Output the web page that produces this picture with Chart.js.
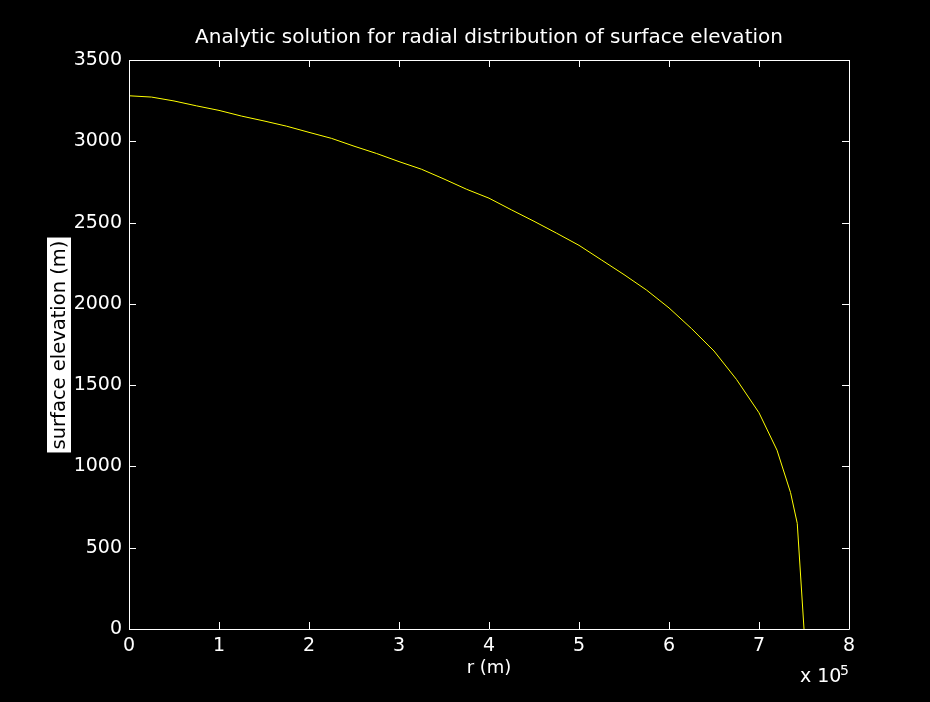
<!DOCTYPE html>
<html>
<head>
<meta charset="utf-8">
<title>Surface elevation</title>
<script src="https://cdn.jsdelivr.net/npm/chart.js@4.4.1/dist/chart.umd.min.js"></script>
<style>
  html, body { margin: 0; padding: 0; background: #000; }
  #wrap { width: 930px; height: 702px; position: relative; }
</style>
</head>
<body>
<div id="wrap"><canvas id="profile"></canvas></div>
<script>
// radial distance (units of 1e5 m) and surface elevation (m)
const radius = [0, 0.25, 0.5, 0.75, 1.0, 1.25, 1.5, 1.75, 2.0, 2.25, 2.5, 2.75, 3.0,
  3.25, 3.5, 3.75, 4.0, 4.25, 4.5, 4.75, 5.0, 5.25, 5.5, 5.75, 6.0, 6.25, 6.5,
  6.75, 7.0, 7.2, 7.35, 7.425, 7.5];
const elevation = [3280, 3272, 3248, 3218, 3190, 3155, 3125, 3093, 3055, 3018, 2970, 2925, 2875,
  2828, 2768, 2705, 2650, 2578, 2508, 2435, 2360, 2270, 2180, 2085, 1975, 1848, 1710,
  1535, 1330, 1100, 840, 650, 0];

const xTicks = [0, 1, 2, 3, 4, 5, 6, 7, 8];
const yTicks = [0, 500, 1000, 1500, 2000, 2500, 3000, 3500];

const titleText = 'Analytic solution for radial distribution of surface elevation';
const xLabel = 'r (m)';
const yLabel = 'surface elevation (m)';

const FONT = "'DejaVu Sans', sans-serif";
Chart.defaults.font.family = FONT;
Chart.defaults.color = '#ffffff';

// black figure, white box with inward ticks, title and axis labels
const matlabFrame = {
  id: 'matlabFrame',
  beforeDraw(chart) {
    const ctx = chart.ctx;
    ctx.save();
    ctx.fillStyle = '#000000';
    ctx.fillRect(0, 0, chart.width, chart.height);
    ctx.restore();
  },
  afterDraw(chart) {
    const { ctx, chartArea: a, scales: { x, y } } = chart;
    const tick = 7;
    ctx.save();
    ctx.strokeStyle = '#ffffff';
    ctx.lineWidth = 1;
    ctx.beginPath();
    ctx.rect(Math.round(a.left) + 0.5, Math.round(a.top) + 0.5,
      Math.round(a.right - a.left), Math.round(a.bottom - a.top));
    xTicks.forEach(v => {
      const px = Math.round(x.getPixelForValue(v)) + 0.5;
      ctx.moveTo(px, a.bottom); ctx.lineTo(px, a.bottom - tick);
      ctx.moveTo(px, a.top); ctx.lineTo(px, a.top + tick);
    });
    yTicks.forEach(v => {
      const py = Math.round(y.getPixelForValue(v)) + 0.5;
      ctx.moveTo(a.left, py); ctx.lineTo(a.left + tick, py);
      ctx.moveTo(a.right, py); ctx.lineTo(a.right - tick, py);
    });
    ctx.stroke();

    ctx.fillStyle = '#ffffff';
    ctx.textAlign = 'center';
    ctx.textBaseline = 'alphabetic';
    const cx = (a.left + a.right) / 2;
    ctx.font = '20px ' + FONT;
    ctx.fillText(titleText, cx, 43);
    ctx.font = '18px ' + FONT;
    ctx.fillText(xLabel, cx, 673);

    // exponent label under the right end of the x axis
    ctx.textAlign = 'left';
    ctx.font = '19px ' + FONT;
    ctx.fillText('x 10', 800, 682);
    ctx.font = '14px ' + FONT;
    ctx.fillText('5', 840, 675);

    // rotated y label on a white box
    ctx.translate(59, 345);
    ctx.rotate(-Math.PI / 2);
    ctx.font = '19.5px ' + FONT;
    const w = ctx.measureText(yLabel).width;
    ctx.fillStyle = '#ffffff';
    ctx.fillRect(-w / 2 - 3, -12, w + 6, 24);
    ctx.fillStyle = '#000000';
    ctx.textAlign = 'center';
    ctx.textBaseline = 'middle';
    ctx.fillText(yLabel, 0, 1);
    ctx.restore();
  }
};

new Chart(document.getElementById('profile'), {
  type: 'line',
  data: {
    datasets: [{
      data: radius.map((r, i) => ({ x: r, y: elevation[i] })),
      borderColor: '#ffff00',
      borderWidth: 1,
      pointRadius: 0,
      tension: 0,
      fill: false
    }]
  },
  options: {
    responsive: true,
    maintainAspectRatio: false,
    animation: false,
    layout: { padding: { left: 0, top: 60, right: 81, bottom: 0 } },
    plugins: {
      legend: { display: false },
      title: { display: false },
      tooltip: { enabled: false }
    },
    scales: {
      x: {
        type: 'linear',
        min: 0,
        max: 8,
        grid: { display: false, drawTicks: false },
        border: { display: false },
        afterBuildTicks: s => { s.ticks = xTicks.map(v => ({ value: v })); },
        afterFit: s => { s.height = 73; },
        ticks: {
          color: '#ffffff', padding: 6, font: { size: 19 }, maxRotation: 0,
          callback: v => String(v)
        }
      },
      y: {
        type: 'linear',
        min: 0,
        max: 3500,
        grid: { display: false, drawTicks: false },
        border: { display: false },
        afterBuildTicks: s => { s.ticks = yTicks.map(v => ({ value: v })); },
        afterFit: s => { s.width = 129; },
        ticks: {
          color: '#ffffff', padding: 7, font: { size: 19 },
          callback: v => String(v)
        }
      }
    }
  },
  plugins: [matlabFrame]
});
</script>
</body>
</html>
